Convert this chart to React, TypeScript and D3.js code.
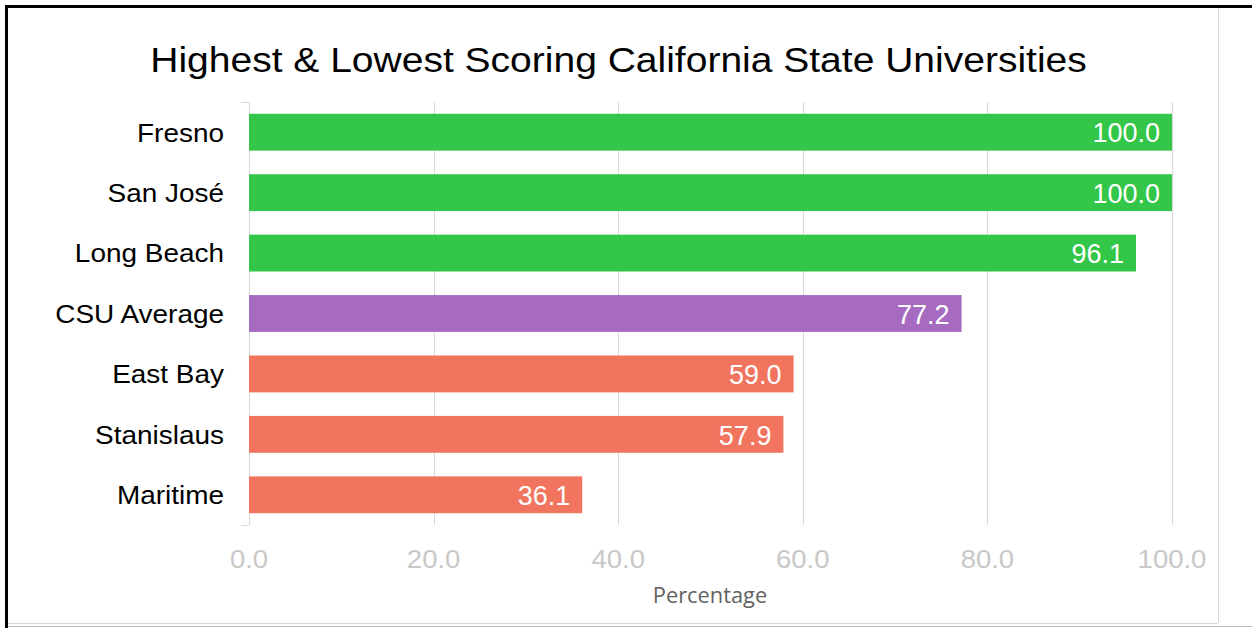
import React from "react";
import * as d3 from "d3";

const categories = ["Fresno", "San José", "Long Beach", "CSU Average", "East Bay", "Stanislaus", "Maritime"];
const values = [100.0, 100.0, 96.1, 77.2, 59.0, 57.9, 36.1];
const groups = ["high", "high", "high", "avg", "low", "low", "low"];
const ticks = [0, 20, 40, 60, 80, 100];
const title = "Highest & Lowest Scoring California State Universities";
const axisTitle = "Percentage";

const colorMap: Record<string, string> = { high: "#33C648", avg: "#A66BC1", low: "#F1745E" };

function T(props: { x: number; y: number; sx: number; anchor: string; size: number; fill: string; family: string; dy?: string; children: React.ReactNode }) {
  return (
    <text
      transform={`translate(${props.x},${props.y}) scale(${props.sx},1)`}
      x={0}
      y={0}
      dy={props.dy}
      textAnchor={props.anchor}
      fontFamily={props.family}
      fontSize={props.size}
      fill={props.fill}
    >
      {props.children}
    </text>
  );
}

export default function App() {
  const W = 1252, H = 628;
  const x = d3.scaleLinear().domain([0, 100]).range([249, 1172]);
  const y = d3.scaleBand().domain(categories).range([102, 525]).paddingInner(0.39).paddingOuter(0.195);
  const font = "'Liberation Sans', Arial, sans-serif";
  return (
    <svg width={W} height={H} style={{ position: "absolute", left: 0, top: 0 }}>
      <rect x={0} y={0} width={W} height={H} fill="#fff" />
      <line x1={6.5} y1={5} x2={6.5} y2={H} stroke="#000" strokeWidth={3} />
      <line x1={5} y1={6.5} x2={W} y2={6.5} stroke="#000" strokeWidth={3} />
      <line x1={1218.5} y1={8} x2={1218.5} y2={623} stroke="#d9d9d9" strokeWidth={1} />
      <line x1={8} y1={623.5} x2={1218} y2={623.5} stroke="#d9d9d9" strokeWidth={1} />
      <line x1={8} y1={626.5} x2={W} y2={626.5} stroke="#bbb" strokeWidth={1} />
      <T x={618.5} y={72} sx={1.115} anchor="middle" size={35} fill="#000" family={font}>{title}</T>
      {ticks.map((t) => (
        <line key={"g" + t} x1={Math.round(x(t)) + 0.5} x2={Math.round(x(t)) + 0.5} y1={102} y2={525} stroke="#d9d9d9" strokeWidth={1} />
      ))}
      <line x1={241} x2={249} y1={102.5} y2={102.5} stroke="#d9d9d9" />
      <line x1={241} x2={249} y1={525.5} y2={525.5} stroke="#d9d9d9" />
      {categories.map((c, i) => {
        const by = y(c)!;
        const bh = y.bandwidth();
        const v = values[i];
        return (
          <g key={c}>
            <rect x={x(0)} y={by} width={x(v) - x(0)} height={bh} fill={colorMap[groups[i]]} />
            <T x={224} y={by + bh / 2} dy="0.36em" sx={1.075} anchor="end" size={26} fill="#000" family={font}>{c}</T>
            <T x={x(v) - 12} y={by + bh / 2} dy="0.38em" sx={1.0} anchor="end" size={27} fill="#fff" family={font}>{v.toFixed(1)}</T>
          </g>
        );
      })}
      {ticks.map((t) => (
        <T key={"t" + t} x={x(t)} y={559} dy="0.36em" sx={1.1} anchor="middle" size={25} fill="#c8c8c8" family={font}>{t.toFixed(1)}</T>
      ))}
      <T x={710} y={603} sx={1.04} anchor="middle" size={21} fill="#626262" family="'Open Sans', sans-serif">{axisTitle}</T>
    </svg>
  );
}
